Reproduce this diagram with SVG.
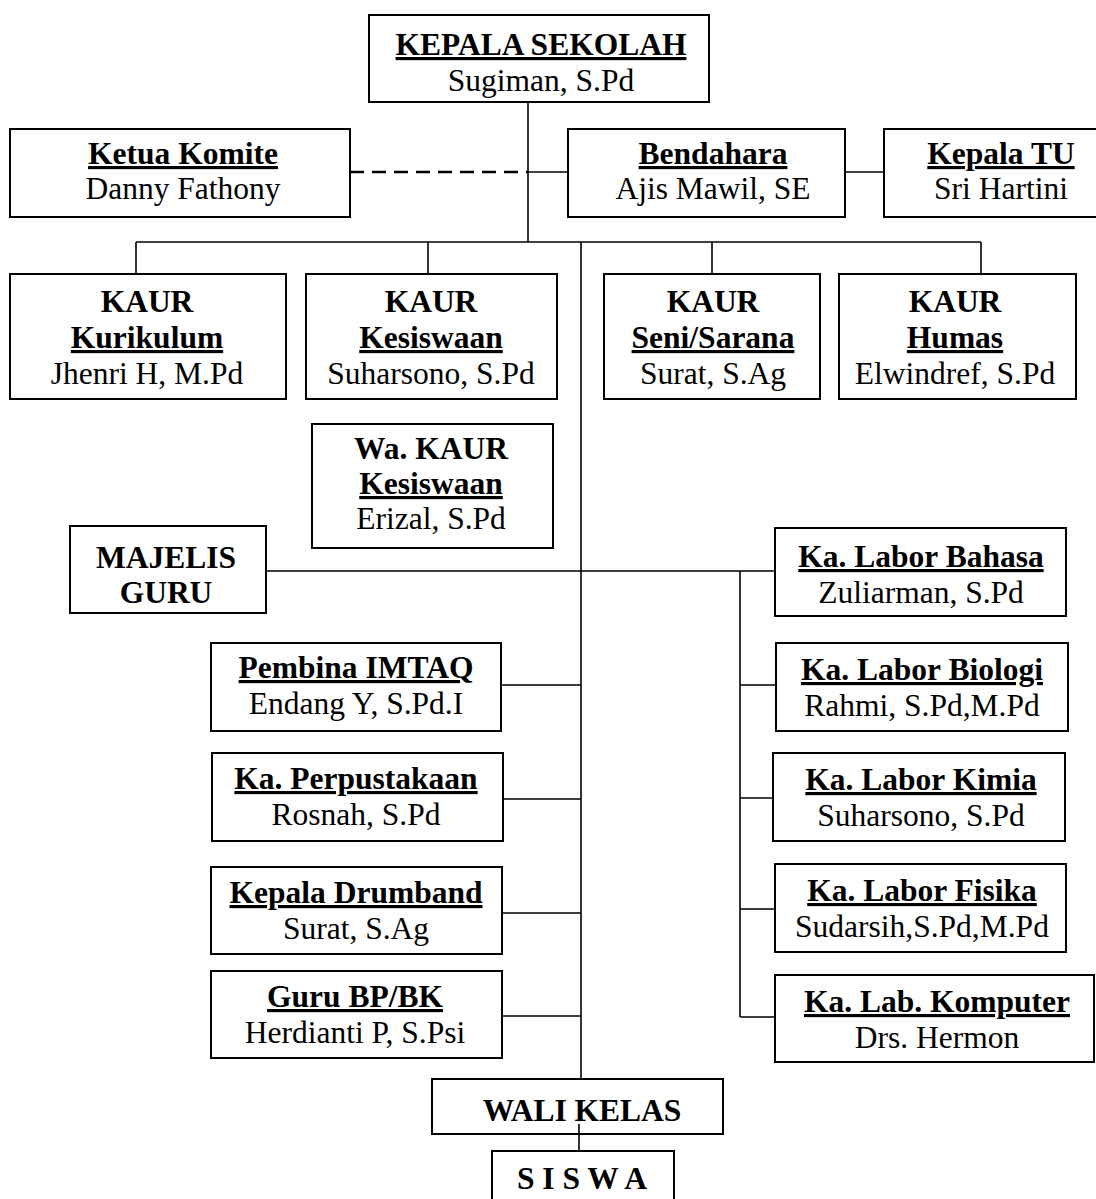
<svg xmlns="http://www.w3.org/2000/svg" width="1096" height="1199" viewBox="0 0 1096 1199">
<style>
.box{fill:#fff;stroke:#000;stroke-width:2}
.t{font-family:"Liberation Serif","Times New Roman",serif;font-size:31.5px;text-anchor:middle;fill:#000}
.b{font-weight:bold}
.u{text-decoration:underline}
.c{stroke:#000;stroke-width:1.6;fill:none}
.d{stroke-dasharray:14 8;stroke-width:2.4}
</style>
<rect x="0" y="0" width="1096" height="1199" fill="#fff"/>
<g id="nodes">
<g id="kepala-sekolah"><rect class="box" x="369" y="15" width="340" height="87"/><text class="t b u" x="541" y="55">KEPALA SEKOLAH</text><text class="t" x="541" y="91">Sugiman, S.Pd</text></g>
<g id="ketua-komite"><rect class="box" x="10" y="129" width="340" height="88"/><text class="t b u" x="183" y="164">Ketua Komite</text><text class="t" x="183" y="199">Danny Fathony</text></g>
<g id="bendahara"><rect class="box" x="568" y="129" width="277" height="88"/><text class="t b u" x="713" y="164">Bendahara</text><text class="t" x="713" y="199">Ajis Mawil, SE</text></g>
<g id="kepala-tu"><rect class="box" x="884" y="129" width="240" height="88"/><text class="t b u" x="1001" y="164">Kepala TU</text><text class="t" x="1001" y="199">Sri Hartini</text></g>
<g id="kaur-kurikulum"><rect class="box" x="10" y="274" width="276" height="125"/><text class="t b" x="147" y="312">KAUR</text><text class="t b u" x="147" y="348">Kurikulum</text><text class="t" x="147" y="384">Jhenri H, M.Pd</text></g>
<g id="kaur-kesiswaan"><rect class="box" x="306" y="274" width="251" height="125"/><text class="t b" x="431" y="312">KAUR</text><text class="t b u" x="431" y="348">Kesiswaan</text><text class="t" x="431" y="384">Suharsono, S.Pd</text></g>
<g id="kaur-seni"><rect class="box" x="604" y="274" width="216" height="125"/><text class="t b" x="713" y="312">KAUR</text><text class="t b u" x="713" y="348">Seni/Sarana</text><text class="t" x="713" y="384">Surat, S.Ag</text></g>
<g id="kaur-humas"><rect class="box" x="839" y="274" width="237" height="125"/><text class="t b" x="955" y="312">KAUR</text><text class="t b u" x="955" y="348">Humas</text><text class="t" x="955" y="384">Elwindref, S.Pd</text></g>
<g id="wa-kaur-kesiswaan"><rect class="box" x="312" y="424" width="241" height="124"/><text class="t b" x="431" y="459">Wa. KAUR</text><text class="t b u" x="431" y="494">Kesiswaan</text><text class="t" x="431" y="529">Erizal, S.Pd</text></g>
<g id="majelis-guru"><rect class="box" x="70" y="526" width="196" height="87"/><text class="t b" x="166" y="568">MAJELIS</text><text class="t b" x="166" y="603">GURU</text></g>
<g id="pembina-imtaq"><rect class="box" x="211" y="643" width="290" height="88"/><text class="t b u" x="356" y="678">Pembina IMTAQ</text><text class="t" x="356" y="714">Endang Y, S.Pd.I</text></g>
<g id="ka-perpustakaan"><rect class="box" x="212" y="753" width="291" height="88"/><text class="t b u" x="356" y="789">Ka. Perpustakaan</text><text class="t" x="356" y="825">Rosnah, S.Pd</text></g>
<g id="kepala-drumband"><rect class="box" x="211" y="867" width="291" height="87"/><text class="t b u" x="356" y="903">Kepala Drumband</text><text class="t" x="356" y="939">Surat, S.Ag</text></g>
<g id="guru-bpbk"><rect class="box" x="211" y="971" width="291" height="87"/><text class="t b u" x="355" y="1007">Guru BP/BK</text><text class="t" x="355" y="1043">Herdianti P, S.Psi</text></g>
<g id="labor-bahasa"><rect class="box" x="775" y="528" width="291" height="88"/><text class="t b u" x="921" y="567">Ka. Labor Bahasa</text><text class="t" x="921" y="603">Zuliarman, S.Pd</text></g>
<g id="labor-biologi"><rect class="box" x="776" y="643" width="292" height="88"/><text class="t b u" x="922" y="680">Ka. Labor Biologi</text><text class="t" x="922" y="716">Rahmi, S.Pd,M.Pd</text></g>
<g id="labor-kimia"><rect class="box" x="773" y="753" width="292" height="88"/><text class="t b u" x="921" y="790">Ka. Labor Kimia</text><text class="t" x="921" y="826">Suharsono, S.Pd</text></g>
<g id="labor-fisika"><rect class="box" x="775" y="864" width="291" height="88"/><text class="t b u" x="922" y="901">Ka. Labor Fisika</text><text class="t" x="922" y="937">Sudarsih,S.Pd,M.Pd</text></g>
<g id="lab-komputer"><rect class="box" x="775" y="975" width="319" height="87"/><text class="t b u" x="937" y="1012">Ka. Lab. Komputer</text><text class="t" x="937" y="1048">Drs. Hermon</text></g>
<g id="wali-kelas"><rect class="box" x="432" y="1079" width="291" height="55"/><text class="t b" x="582" y="1121">WALI KELAS</text></g>
<g id="siswa"><rect class="box" x="492" y="1151" width="182" height="60"/><text class="t b" x="582" y="1189">S I S W A</text></g>
</g>
<g id="connectors">
<path class="c" d="M528 102V242"/>
<path class="c d" d="M350 172H528"/>
<path class="c" d="M528 172H568"/>
<path class="c" d="M845 172H884"/>
<path class="c" d="M136 242H981"/>
<path class="c" d="M136 242V274M428 242V274M712 242V274M981 242V274"/>
<path class="c" d="M581 242V1079"/>
<path class="c" d="M266 571H775"/>
<path class="c" d="M740 571V1017"/>
<path class="c" d="M740 685H776M740 798H773M740 909H775M740 1017H775"/>
<path class="c" d="M501 685H581M503 799H581M502 913H581M502 1016H581"/>
<path class="c" d="M579 1124V1151"/>
</g>
</svg>
